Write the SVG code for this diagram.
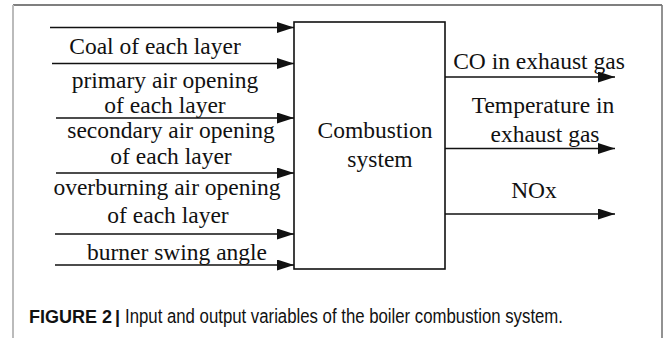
<svg xmlns="http://www.w3.org/2000/svg" width="665" height="338" viewBox="0 0 665 338">
<style>
.lbl{font-family:"Liberation Serif","Times New Roman",serif;font-size:23.5px;fill:#111;text-anchor:middle}
.ln{stroke:#111;stroke-width:1.6;fill:none}
.cap{font-family:"Liberation Sans",Arial,sans-serif;font-size:18px;fill:#111}
</style>
<defs>
<marker id="ah" markerUnits="userSpaceOnUse" markerWidth="17" markerHeight="11" refX="17" refY="5.5" orient="auto">
<path d="M0,0 L17,5.5 L0,11 Z" fill="#111"/>
</marker>
</defs>
<rect width="665" height="338" fill="#fff"/>
<line x1="13" y1="5" x2="662" y2="5" stroke="#555" stroke-width="1.6"/>
<line x1="13" y1="5" x2="13" y2="338" stroke="#bbb" stroke-width="2"/>
<line x1="662" y1="5" x2="662" y2="338" stroke="#777" stroke-width="1.6"/>
<g id="connectors">
<line class="ln" x1="50" y1="27.5" x2="294" y2="27.5" marker-end="url(#ah)"/>
<line class="ln" x1="52" y1="63.5" x2="294" y2="63.5" marker-end="url(#ah)"/>
<line class="ln" x1="56" y1="118" x2="294" y2="118" marker-end="url(#ah)"/>
<line class="ln" x1="56" y1="173" x2="294" y2="173" marker-end="url(#ah)"/>
<line class="ln" x1="55" y1="234" x2="294" y2="234" marker-end="url(#ah)"/>
<line class="ln" x1="55" y1="265" x2="294" y2="265" marker-end="url(#ah)"/>
<line class="ln" x1="445" y1="77" x2="615" y2="77" marker-end="url(#ah)"/>
<line class="ln" x1="445" y1="148.5" x2="615" y2="148.5" marker-end="url(#ah)"/>
<line class="ln" x1="445" y1="214" x2="615" y2="214" marker-end="url(#ah)"/>
</g>
<g id="input-labels">
<text class="lbl" x="155" y="54">Coal of each layer</text>
<text class="lbl" x="165" y="88">primary air opening</text>
<text class="lbl" x="165" y="113">of each layer</text>
<text class="lbl" x="171" y="138">secondary air opening</text>
<text class="lbl" x="171" y="164">of each layer</text>
<text class="lbl" x="167" y="195">overburning air opening</text>
<text class="lbl" x="168" y="223">of each layer</text>
<text class="lbl" x="177" y="260">burner swing angle</text>
</g>
<g id="combustion-system">
<rect x="294" y="22" width="151" height="247" fill="none" stroke="#111" stroke-width="1.6"/>
<text class="lbl" x="375" y="138">Combustion</text>
<text class="lbl" x="380" y="167">system</text>
</g>
<g id="output-labels">
<text class="lbl" x="539" y="69">CO in exhaust gas</text>
<text class="lbl" x="543" y="113">Temperature in</text>
<text class="lbl" x="545" y="142">exhaust gas</text>
<text class="lbl" x="534" y="198">NOx</text>
</g>
<text class="cap" x="29" y="323"><tspan font-weight="bold">FIGURE 2</tspan><tspan font-weight="bold" x="115">|</tspan><tspan x="125" font-size="19.5" textLength="438" lengthAdjust="spacingAndGlyphs">Input and output variables of the boiler combustion system.</tspan></text>
</svg>
